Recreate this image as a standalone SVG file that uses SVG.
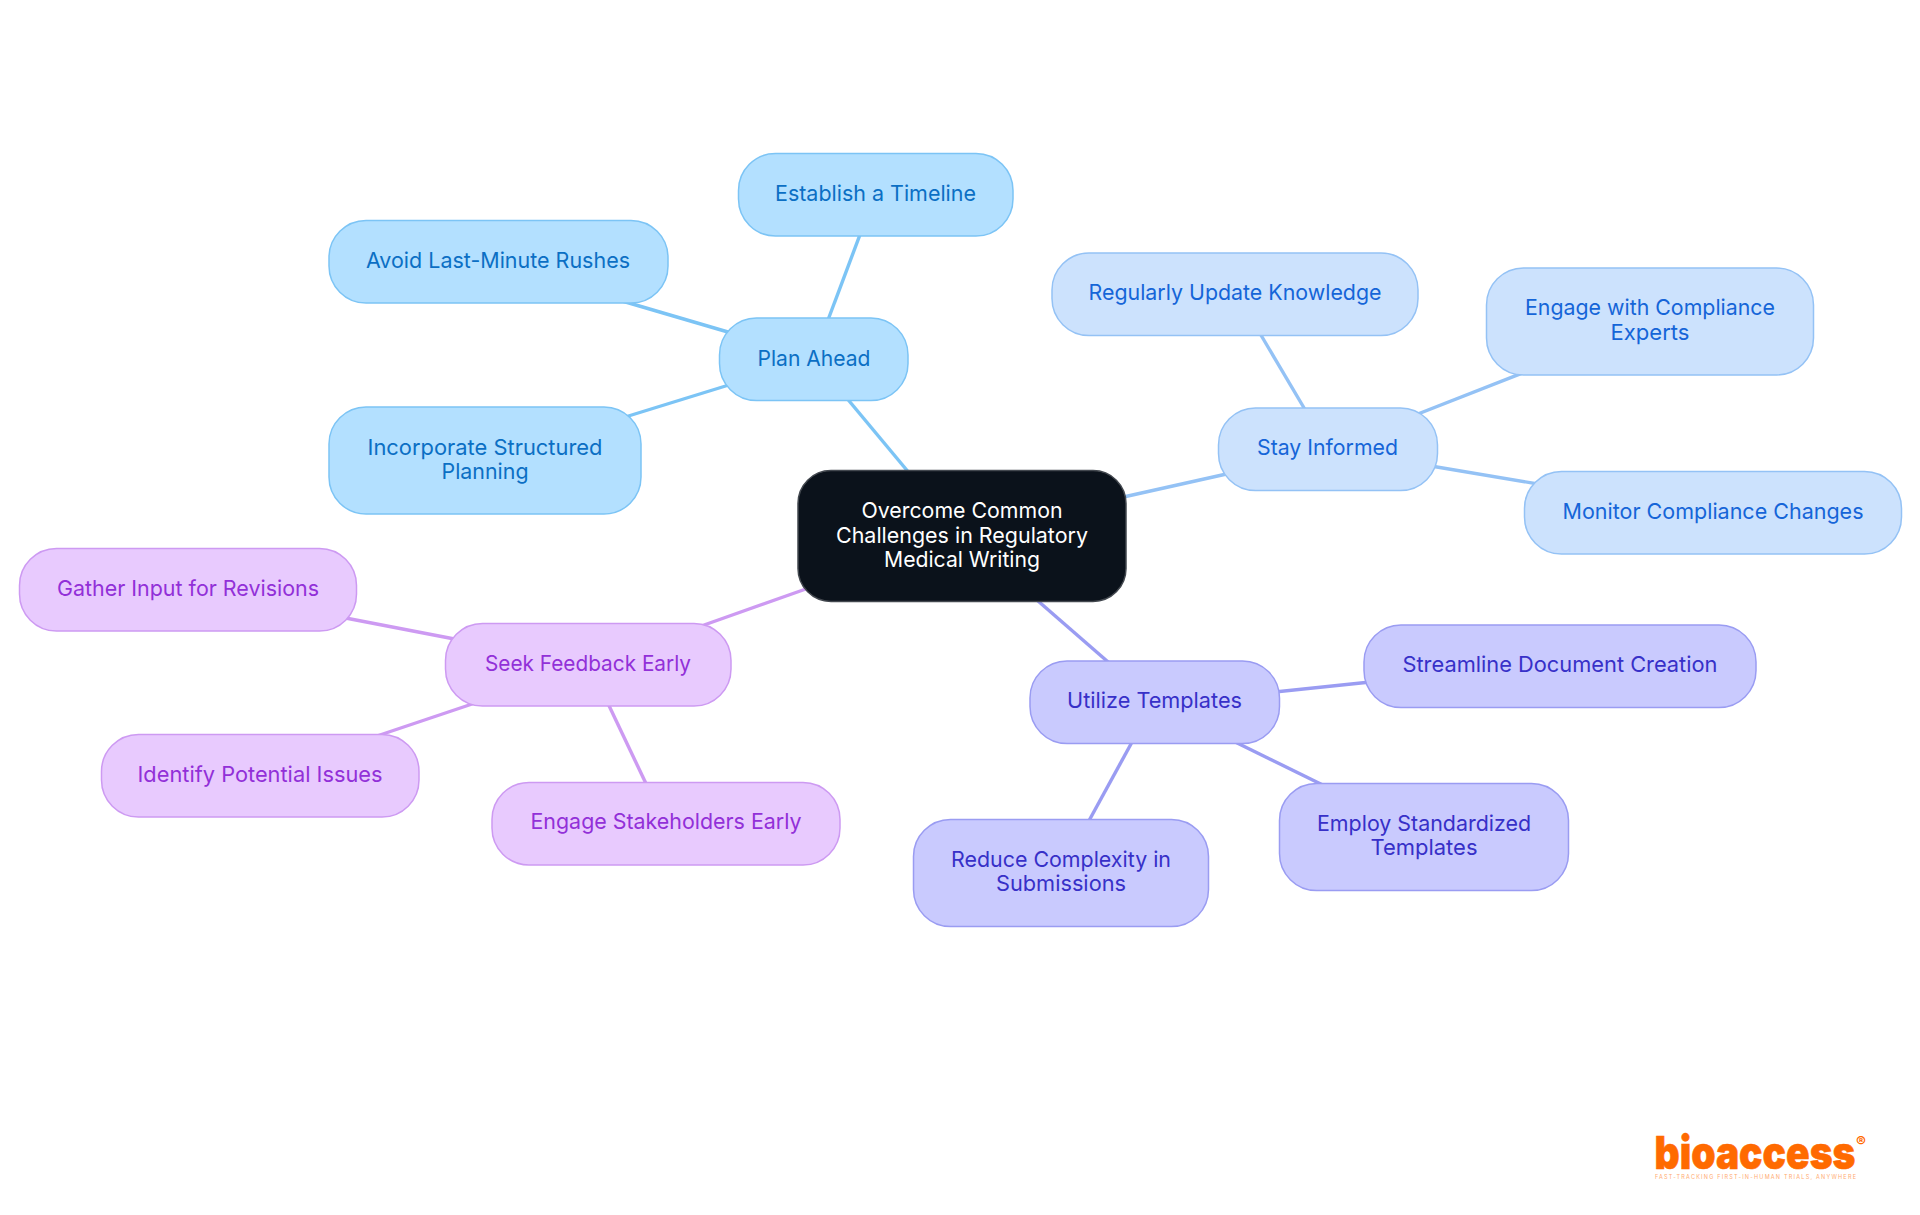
<svg xmlns="http://www.w3.org/2000/svg" width="1920" height="1215" viewBox="0 0 1920 1215">
<style>
text{font-family:"Inter","Noto Sans","Liberation Sans",sans-serif;font-size:22px;font-weight:400;text-anchor:middle}
.n{stroke-width:1.5}
.l{fill:none;stroke-width:3.4;stroke-linecap:butt}
.c rect{fill:#0b121b;stroke:#43484f}.c text{fill:#fff}
.a rect{fill:#b3e0ff;stroke:#7cc4f5}.a text{fill:#0b6fc4}
.b rect{fill:#cce2fd;stroke:#94c2f5}.b text{fill:#1565d8}
.u rect{fill:#c9cafe;stroke:#9a9cf2}.u text{fill:#3730c8}
.s rect{fill:#e8cafe;stroke:#cd9af2}.s text{fill:#9230d8}
.la{stroke:#7cc4f5}.lb{stroke:#94c2f5}.lu{stroke:#9a9cf2}.ls{stroke:#cd9af2}
</style>
<g id="connectors">
<path class="l la" d="M840 390L915 480"/><path class="l la" d="M825 328L864 224"/><path class="l la" d="M745 337L612 298"/><path class="l la" d="M745 380L609 422"/>
<path class="l lb" d="M1110 500L1240 471"/><path class="l lb" d="M1310 418L1255 325"/><path class="l lb" d="M1400 421L1530 370"/><path class="l lb" d="M1425 465L1550 486"/>
<path class="l lu" d="M1030 594L1115 668"/><path class="l lu" d="M1265 693L1380 681"/><path class="l lu" d="M1225 737L1335 791"/><path class="l lu" d="M1137 733L1085 828"/>
<path class="l ls" d="M820 584L690 630"/><path class="l ls" d="M470 642L330 615"/><path class="l ls" d="M490 698L365 740"/><path class="l ls" d="M603 693L650 792"/>
</g>
<g id="center" class="c"><rect class="n" x="798" y="470.5" width="328" height="131" rx="33"/>
<text x="962" y="518" textLength="201" lengthAdjust="spacingAndGlyphs">Overcome Common</text><text x="962" y="543" textLength="252" lengthAdjust="spacingAndGlyphs">Challenges in Regulatory</text><text x="962" y="567" textLength="156" lengthAdjust="spacingAndGlyphs">Medical Writing</text></g>
<g id="plan-ahead" class="a"><rect class="n" x="719.5" y="318" width="188.5" height="82.5" rx="37"/><text x="814" y="366" textLength="113" lengthAdjust="spacingAndGlyphs">Plan Ahead</text></g>
<g id="establish" class="a"><rect class="n" x="738.5" y="153.5" width="274.5" height="82.5" rx="37"/><text x="875.5" y="201" textLength="201" lengthAdjust="spacingAndGlyphs">Establish a Timeline</text></g>
<g id="avoid" class="a"><rect class="n" x="329" y="220.5" width="339" height="82.5" rx="37"/><text x="498" y="268" textLength="264" lengthAdjust="spacingAndGlyphs">Avoid Last-Minute Rushes</text></g>
<g id="incorporate" class="a"><rect class="n" x="329" y="407" width="312" height="107" rx="37"/><text x="485" y="455" textLength="235" lengthAdjust="spacingAndGlyphs">Incorporate Structured</text><text x="485" y="479" textLength="87" lengthAdjust="spacingAndGlyphs">Planning</text></g>
<g id="stay-informed" class="b"><rect class="n" x="1218.5" y="408" width="219" height="82.5" rx="37"/><text x="1327.5" y="455" textLength="141" lengthAdjust="spacingAndGlyphs">Stay Informed</text></g>
<g id="regularly" class="b"><rect class="n" x="1052" y="253" width="366" height="82.5" rx="37"/><text x="1235" y="300" textLength="293" lengthAdjust="spacingAndGlyphs">Regularly Update Knowledge</text></g>
<g id="engage-compliance" class="b"><rect class="n" x="1486.5" y="268" width="327" height="107" rx="37"/><text x="1650" y="315" textLength="250" lengthAdjust="spacingAndGlyphs">Engage with Compliance</text><text x="1650" y="340" textLength="79" lengthAdjust="spacingAndGlyphs">Experts</text></g>
<g id="monitor" class="b"><rect class="n" x="1524.5" y="471.5" width="377" height="82.5" rx="37"/><text x="1713" y="519" textLength="301" lengthAdjust="spacingAndGlyphs">Monitor Compliance Changes</text></g>
<g id="utilize" class="u"><rect class="n" x="1030" y="661" width="249.5" height="82.5" rx="37"/><text x="1154.5" y="708" textLength="175" lengthAdjust="spacingAndGlyphs">Utilize Templates</text></g>
<g id="streamline" class="u"><rect class="n" x="1364" y="625" width="392" height="82.5" rx="37"/><text x="1560" y="672" textLength="315" lengthAdjust="spacingAndGlyphs">Streamline Document Creation</text></g>
<g id="employ" class="u"><rect class="n" x="1279.5" y="783.5" width="289" height="107" rx="37"/><text x="1424" y="831" textLength="214" lengthAdjust="spacingAndGlyphs">Employ Standardized</text><text x="1424" y="855" textLength="107" lengthAdjust="spacingAndGlyphs">Templates</text></g>
<g id="reduce" class="u"><rect class="n" x="913.5" y="819.5" width="295" height="107" rx="37"/><text x="1061" y="867" textLength="220" lengthAdjust="spacingAndGlyphs">Reduce Complexity in</text><text x="1061" y="891" textLength="130" lengthAdjust="spacingAndGlyphs">Submissions</text></g>
<g id="seek" class="s"><rect class="n" x="445.5" y="623.5" width="285.5" height="82.5" rx="37"/><text x="588" y="671" textLength="206" lengthAdjust="spacingAndGlyphs">Seek Feedback Early</text></g>
<g id="gather" class="s"><rect class="n" x="19.5" y="548.5" width="337" height="82.5" rx="37"/><text x="188" y="595.5" textLength="262" lengthAdjust="spacingAndGlyphs">Gather Input for Revisions</text></g>
<g id="identify" class="s"><rect class="n" x="101.5" y="734.5" width="317.5" height="82.5" rx="37"/><text x="260" y="781.5" textLength="245" lengthAdjust="spacingAndGlyphs">Identify Potential Issues</text></g>
<g id="engage-stakeholders" class="s"><rect class="n" x="492" y="782.5" width="348" height="82.5" rx="37"/><text x="666" y="829" textLength="271" lengthAdjust="spacingAndGlyphs">Engage Stakeholders Early</text></g>
<g id="logo">
<text x="1755" y="1169" textLength="201" lengthAdjust="spacingAndGlyphs" style="font-size:46px;font-weight:900;fill:#ff6a00;stroke:#ff6a00;stroke-width:.6">bioaccess</text>
<text x="1861" y="1147" style="font-size:15px;font-weight:700;fill:#ff6a00">®</text>
<text x="1755.5" y="1179" textLength="201" lengthAdjust="spacing" style="font-size:5.5px;font-weight:400;fill:#ffab70">FAST-TRACKING FIRST-IN-HUMAN TRIALS, ANYWHERE</text>
</g>
</svg>
